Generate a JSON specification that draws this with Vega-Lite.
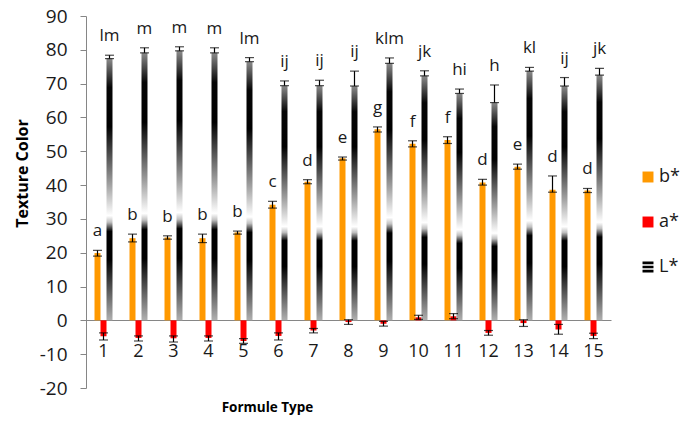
{
  "$schema": "https://vega.github.io/schema/vega-lite/v6.json",
  "width": 525,
  "height": 372,
  "autosize": {"type": "none"},
  "padding": {"left": 86, "top": 16, "right": 69, "bottom": 33},
  "background": "white",
  "config": {
    "view": {"stroke": null},
    "font": "Open Sans",
    "axis": {"grid": false, "labelFont": "Open Sans", "titleFont": "Open Sans", "labelColor": "#1a1a1a", "titleColor": "#000000", "domainColor": "#868686", "tickColor": "#868686"},
    "legend": {"padding": 0}
  },
  "data": {
    "values": [
      {"type": "1", "series": "b*", "value": 19.9, "lo": 19.0, "hi": 20.7, "letter": "a"},
      {"type": "2", "series": "b*", "value": 24.3, "lo": 23.2, "hi": 25.5, "letter": "b"},
      {"type": "3", "series": "b*", "value": 24.5, "lo": 24.0, "hi": 25.0, "letter": "b"},
      {"type": "4", "series": "b*", "value": 24.3, "lo": 23.0, "hi": 25.5, "letter": "b"},
      {"type": "5", "series": "b*", "value": 26.0, "lo": 25.5, "hi": 26.4, "letter": "b"},
      {"type": "6", "series": "b*", "value": 34.2, "lo": 33.2, "hi": 35.2, "letter": "c"},
      {"type": "7", "series": "b*", "value": 41.0, "lo": 40.4, "hi": 41.6, "letter": "d"},
      {"type": "8", "series": "b*", "value": 47.9, "lo": 47.4, "hi": 48.3, "letter": "e"},
      {"type": "9", "series": "b*", "value": 56.5, "lo": 55.7, "hi": 57.2, "letter": "g"},
      {"type": "10", "series": "b*", "value": 52.2, "lo": 51.3, "hi": 53.1, "letter": "f"},
      {"type": "11", "series": "b*", "value": 53.3, "lo": 52.3, "hi": 54.3, "letter": "f"},
      {"type": "12", "series": "b*", "value": 40.8, "lo": 40.0, "hi": 41.7, "letter": "d"},
      {"type": "13", "series": "b*", "value": 45.4, "lo": 44.7, "hi": 46.2, "letter": "e"},
      {"type": "14", "series": "b*", "value": 38.6, "lo": 37.9, "hi": 42.7, "letter": "d"},
      {"type": "15", "series": "b*", "value": 38.4, "lo": 37.8, "hi": 39.0, "letter": "d"},
      {"type": "1", "series": "a*", "value": -4.7, "lo": -5.8, "hi": -3.7, "letter": ""},
      {"type": "2", "series": "a*", "value": -5.2, "lo": -6.1, "hi": -4.6, "letter": ""},
      {"type": "3", "series": "a*", "value": -5.3, "lo": -6.4, "hi": -4.6, "letter": ""},
      {"type": "4", "series": "a*", "value": -5.2, "lo": -6.1, "hi": -4.6, "letter": ""},
      {"type": "5", "series": "a*", "value": -6.1, "lo": -6.8, "hi": -5.4, "letter": ""},
      {"type": "6", "series": "a*", "value": -4.6, "lo": -5.8, "hi": -3.7, "letter": ""},
      {"type": "7", "series": "a*", "value": -3.0, "lo": -3.7, "hi": -2.4, "letter": ""},
      {"type": "8", "series": "a*", "value": -0.5, "lo": -1.2, "hi": 0.2, "letter": ""},
      {"type": "9", "series": "a*", "value": -1.0, "lo": -1.7, "hi": -0.3, "letter": ""},
      {"type": "10", "series": "a*", "value": 0.9, "lo": 0.3, "hi": 1.5, "letter": ""},
      {"type": "11", "series": "a*", "value": 1.2, "lo": 0.5, "hi": 2.0, "letter": ""},
      {"type": "12", "series": "a*", "value": -3.7, "lo": -4.4, "hi": -3.0, "letter": ""},
      {"type": "13", "series": "a*", "value": -0.8, "lo": -1.8, "hi": 0.2, "letter": ""},
      {"type": "14", "series": "a*", "value": -2.7, "lo": -4.1, "hi": -1.2, "letter": ""},
      {"type": "15", "series": "a*", "value": -4.6, "lo": -5.4, "hi": -3.8, "letter": ""},
      {"type": "1", "series": "L*", "value": 77.4, "lo": 77.4, "hi": 78.4, "letter": "lm"},
      {"type": "2", "series": "L*", "value": 79.1, "lo": 79.1, "hi": 80.6, "letter": "m"},
      {"type": "3", "series": "L*", "value": 79.7, "lo": 79.7, "hi": 80.9, "letter": "m"},
      {"type": "4", "series": "L*", "value": 79.1, "lo": 79.1, "hi": 80.6, "letter": "m"},
      {"type": "5", "series": "L*", "value": 76.5, "lo": 76.5, "hi": 77.7, "letter": "lm"},
      {"type": "6", "series": "L*", "value": 69.4, "lo": 69.4, "hi": 70.8, "letter": "ij"},
      {"type": "7", "series": "L*", "value": 69.4, "lo": 69.4, "hi": 71.0, "letter": "ij"},
      {"type": "8", "series": "L*", "value": 69.3, "lo": 69.3, "hi": 73.7, "letter": "ij"},
      {"type": "9", "series": "L*", "value": 76.0, "lo": 76.0, "hi": 77.6, "letter": "klm"},
      {"type": "10", "series": "L*", "value": 72.3, "lo": 72.3, "hi": 73.8, "letter": "jk"},
      {"type": "11", "series": "L*", "value": 67.1, "lo": 67.1, "hi": 68.4, "letter": "hi"},
      {"type": "12", "series": "L*", "value": 64.4, "lo": 64.4, "hi": 69.6, "letter": "h"},
      {"type": "13", "series": "L*", "value": 73.7, "lo": 73.7, "hi": 74.8, "letter": "kl"},
      {"type": "14", "series": "L*", "value": 69.3, "lo": 69.3, "hi": 71.8, "letter": "ij"},
      {"type": "15", "series": "L*", "value": 72.5, "lo": 72.5, "hi": 74.5, "letter": "jk"}
    ]
  },
  "encoding": {
    "x": {
      "field": "type", "type": "nominal", "sort": null,
      "scale": {"paddingInner": 0.486, "paddingOuter": 0.243},
      "axis": {"title": "Formule Type", "labelAngle": 0, "ticks": false, "offset": -68, "labelPadding": 22, "labelFontSize": 18, "titleFontSize": 13.5, "titleFontWeight": "bold", "titleX": 181, "titleY": 80, "titleBaseline": "top"}
    },
    "xOffset": {"field": "series", "type": "nominal", "sort": ["b*", "a*", "L*"], "scale": {"domain": ["b*", "a*", "L*"], "paddingInner": 0, "paddingOuter": 0}}
  },
  "layer": [
    {
      "transform": [{"filter": "datum.series !== 'L*'"}],
      "mark": {"type": "bar"},
      "encoding": {
        "y": {"field": "value", "type": "quantitative", "scale": {"domain": [-20, 90], "nice": false},
          "axis": {"title": "Texture Color", "values": [-20, -10, 0, 10, 20, 30, 40, 50, 60, 70, 80, 90], "labelOverlap": false, "labelExpr": "'' + datum.value", "tickSize": 6, "labelPadding": 13, "labelFontSize": 19, "titleFontSize": 16, "titleFontWeight": "bold", "titleX": -56, "titleY": 157, "titleBaseline": "bottom"}},
        "color": {"field": "series", "type": "nominal",
          "scale": {"domain": ["b*", "a*", "L*"], "range": ["#FF9900", "#FF0000", "#000000"]},
          "legend": {"title": null, "orient": "none", "legendX": 553, "legendY": 152, "symbolType": "square", "symbolSize": 120, "symbolStrokeWidth": 0, "labelFontSize": 18, "labelFont": "Open Sans", "labelColor": "#1a1a1a", "rowPadding": 27, "labelOffset": 2,
            "encode": {"symbols": {"update": {"shape": [
              {"test": "datum.value == 'L*' || datum.label == 'L*'", "value": "M-1,-1H1V-0.5H-1Z M-1,-0.25H1V0.25H-1Z M-1,0.5H1V1H-1Z"},
              {"value": "square"}
            ]}}}}
        }
      }
    },
    {
      "transform": [{"filter": "datum.series === 'L*'"}],
      "mark": {"type": "bar", "color": {"gradient": "linear", "x1": 0, "y1": 0, "x2": 0, "y2": 1, "stops": [
        {"offset": 0, "color": "#8c8c8c"},
        {"offset": 0.11, "color": "#050505"},
        {"offset": 0.26, "color": "#000000"},
        {"offset": 0.48, "color": "#a0a0a0"},
        {"offset": 0.6, "color": "#ffffff"},
        {"offset": 0.625, "color": "#c0c0c0"},
        {"offset": 0.66, "color": "#000000"},
        {"offset": 0.77, "color": "#000000"},
        {"offset": 1, "color": "#b0b0b0"}
      ]}},
      "encoding": {
        "y": {"field": "value", "type": "quantitative",
          "axis": {"title": "Texture Color", "values": [-20, -10, 0, 10, 20, 30, 40, 50, 60, 70, 80, 90], "labelOverlap": false, "labelExpr": "'' + datum.value", "tickSize": 6, "labelPadding": 13, "labelFontSize": 19, "titleFontSize": 16, "titleFontWeight": "bold", "titleX": -56, "titleY": 157, "titleBaseline": "bottom"}}
      }
    },
    {
      "mark": {"type": "rule", "color": "#000000", "strokeWidth": 1.2},
      "encoding": {
        "y": {"field": "lo", "type": "quantitative",
          "axis": {"title": "Texture Color", "values": [-20, -10, 0, 10, 20, 30, 40, 50, 60, 70, 80, 90], "labelOverlap": false, "labelExpr": "'' + datum.value", "tickSize": 6, "labelPadding": 13, "labelFontSize": 19, "titleFontSize": 16, "titleFontWeight": "bold", "titleX": -56, "titleY": 157, "titleBaseline": "bottom"}},
        "y2": {"field": "hi"}
      }
    },
    {
      "mark": {"type": "tick", "color": "#000000", "thickness": 1.2, "size": 9},
      "encoding": {
        "y": {"field": "lo", "type": "quantitative",
          "axis": {"title": "Texture Color", "values": [-20, -10, 0, 10, 20, 30, 40, 50, 60, 70, 80, 90], "labelOverlap": false, "labelExpr": "'' + datum.value", "tickSize": 6, "labelPadding": 13, "labelFontSize": 19, "titleFontSize": 16, "titleFontWeight": "bold", "titleX": -56, "titleY": 157, "titleBaseline": "bottom"}}
      }
    },
    {
      "mark": {"type": "tick", "color": "#000000", "thickness": 1.2, "size": 9},
      "encoding": {
        "y": {"field": "hi", "type": "quantitative",
          "axis": {"title": "Texture Color", "values": [-20, -10, 0, 10, 20, 30, 40, 50, 60, 70, 80, 90], "labelOverlap": false, "labelExpr": "'' + datum.value", "tickSize": 6, "labelPadding": 13, "labelFontSize": 19, "titleFontSize": 16, "titleFontWeight": "bold", "titleX": -56, "titleY": 157, "titleBaseline": "bottom"}}
      }
    },
    {
      "mark": {"type": "text", "font": "Open Sans", "fontSize": 17, "baseline": "alphabetic", "dy": -14, "color": "#1a1a1a"},
      "encoding": {
        "y": {"field": "hi", "type": "quantitative",
          "axis": {"title": "Texture Color", "values": [-20, -10, 0, 10, 20, 30, 40, 50, 60, 70, 80, 90], "labelOverlap": false, "labelExpr": "'' + datum.value", "tickSize": 6, "labelPadding": 13, "labelFontSize": 19, "titleFontSize": 16, "titleFontWeight": "bold", "titleX": -56, "titleY": 157, "titleBaseline": "bottom"}},
        "text": {"field": "letter"}
      }
    }
  ]
}
